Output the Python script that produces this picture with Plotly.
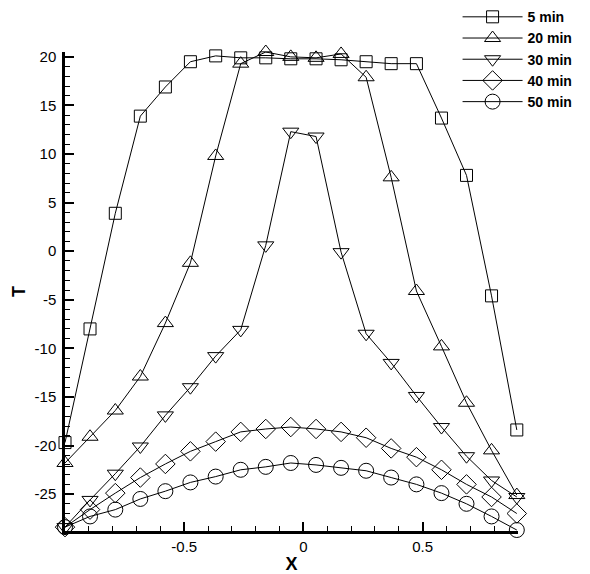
import plotly.graph_objects as go

x_vals = [-1.0, -0.895, -0.789, -0.684, -0.579, -0.474, -0.368, -0.263, -0.158, -0.053,
          0.053, 0.158, 0.263, 0.368, 0.474, 0.579, 0.684, 0.789, 0.895]

t_5min = [-19.7, -8.0, 3.9, 13.9, 16.9, 19.5, 20.1, 19.9, 19.9, 19.8,
          19.8, 19.7, 19.5, 19.3, 19.3, 13.7, 7.8, -4.6, -18.4]
t_20min = [-21.8, -19.1, -16.4, -12.9, -7.4, -1.2, 9.8, 19.3, 20.5, 20.0,
           19.9, 20.3, 17.9, 7.6, -4.1, -9.8, -15.6, -20.5, -25.1]
t_30min = [-28.4, -25.6, -22.9, -20.1, -16.9, -14.0, -10.8, -8.1, 0.6, 12.3,
           11.8, -0.1, -8.5, -11.5, -14.9, -18.1, -21.1, -23.6, -25.3]
t_40min = [-28.4, -26.6, -24.9, -23.3, -21.9, -20.6, -19.6, -18.6, -18.3, -18.1,
           -18.3, -18.6, -19.2, -20.3, -21.2, -22.5, -24.0, -25.3, -27.0]
t_50min = [-28.4, -27.3, -26.6, -25.5, -24.7, -23.8, -23.2, -22.5, -22.2, -21.8,
           -22.0, -22.3, -22.6, -23.3, -24.0, -24.9, -26.0, -27.3, -28.7]

series_names = ["5 min", "20 min", "30 min", "40 min", "50 min"]
series_vals = [t_5min, t_20min, t_30min, t_40min, t_50min]
symbols = ["square-open", "triangle-up-open", "triangle-down-open", "diamond-open", "circle-open"]
sizes = [12, 14, 14, 15, 15]

FONT = "Liberation Sans, Arial, Helvetica, sans-serif"

fig = go.Figure()
for name, vals, sym, sz in zip(series_names, series_vals, symbols, sizes):
    fig.add_trace(go.Scatter(
        x=x_vals, y=vals, name=name, mode="lines+markers",
        line=dict(color="black", width=1),
        marker=dict(symbol=sym, size=sz, color="black", line=dict(color="black", width=1)),
        cliponaxis=False,
    ))

fig.update_layout(
    width=590, height=574,
    margin=dict(l=65, r=72, t=52, b=43, autoexpand=False),
    paper_bgcolor="white", plot_bgcolor="white",
    font=dict(family=FONT, color="black", size=15),
    showlegend=True,
    legend=dict(
        x=0.8666, y=1.106, xanchor="left", yanchor="top",
        bgcolor="rgba(0,0,0,0)", borderwidth=0,
        font=dict(family=FONT, size=14, color="black", weight="bold"),
        itemwidth=60,
    ),
)

fig.update_xaxes(
    range=[-1.0, 0.9], showgrid=False, zeroline=False, automargin=False,
    showline=True, linecolor="black", linewidth=2.5,
    tickmode="array", tickvals=[-0.5, 0, 0.5], ticktext=["-0.5", "0", "0.5"],
    ticks="inside", ticklen=9, tickwidth=2, tickcolor="black",
    minor=dict(ticks="inside", ticklen=5, tickwidth=1, tickcolor="black", dtick=0.1, tick0=0),
    tickfont=dict(size=15, family=FONT),
    ticklabelstandoff=0,
    title=dict(text="X", font=dict(size=18, family=FONT, weight="bold"), standoff=6),
)
fig.update_yaxes(
    range=[-28.8, 20.5], showgrid=False, zeroline=False, automargin=False,
    showline=True, linecolor="black", linewidth=2.5,
    tickmode="array", tickvals=[-25, -20, -15, -10, -5, 0, 5, 10, 15, 20],
    ticktext=["-25", "-20", "-15", "-10", "-5", "0", "5", "10", "15", "20"],
    ticks="inside", ticklen=9, tickwidth=2, tickcolor="black",
    minor=dict(ticks="inside", ticklen=5, tickwidth=1, tickcolor="black", dtick=1, tick0=0),
    tickfont=dict(size=15, family=FONT),
    ticklabelstandoff=3,
    title=dict(text="T", font=dict(size=18, family=FONT, weight="bold"), standoff=5),
)

fig.write_html("out.html")
